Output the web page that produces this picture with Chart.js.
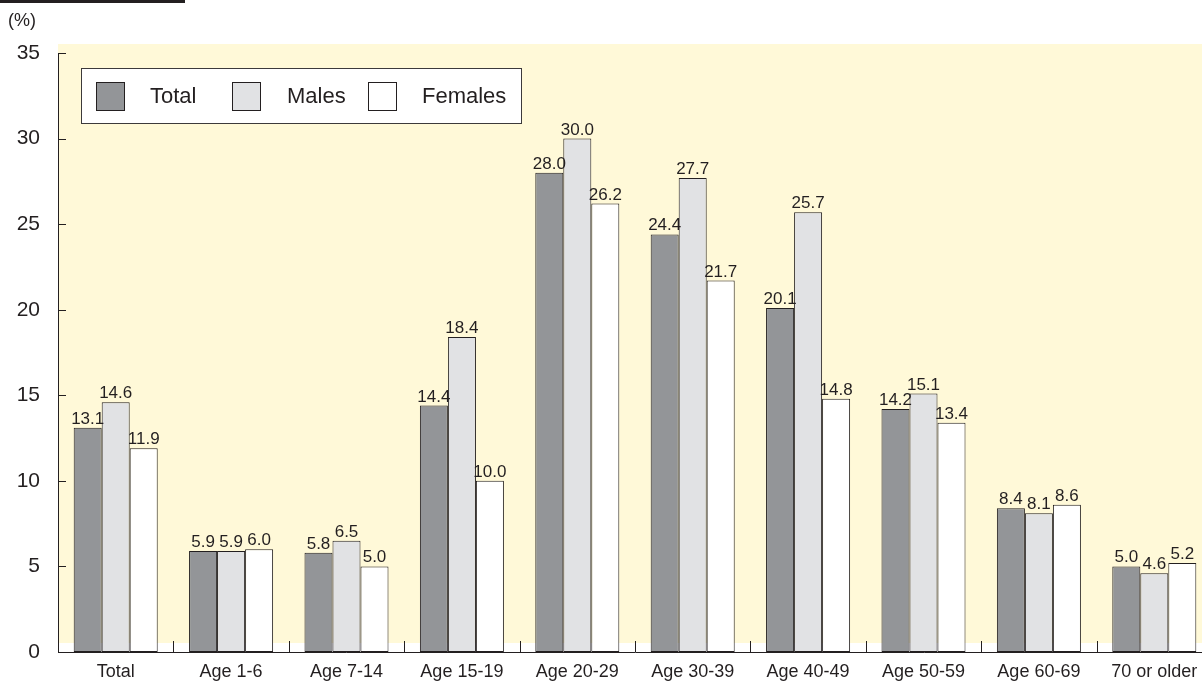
<!DOCTYPE html>
<html>
<head>
<meta charset="utf-8">
<script src="https://cdn.jsdelivr.net/npm/chart.js@4/dist/chart.umd.min.js"></script>
<style>
  html, body { margin: 0; padding: 0; background: #fff; overflow: hidden; }
  canvas { display: block; }
</style>
</head>
<body>
<canvas id="chart" width="1212" height="685"></canvas>
<script>
// data
const categories = ['Total', 'Age 1-6', 'Age 7-14', 'Age 15-19', 'Age 20-29', 'Age 30-39', 'Age 40-49', 'Age 50-59', 'Age 60-69', '70 or older'];
const totalValues = [13.1, 5.9, 5.8, 14.4, 28.0, 24.4, 20.1, 14.2, 8.4, 5.0];
const maleValues = [14.6, 5.9, 6.5, 18.4, 30.0, 27.7, 25.7, 15.1, 8.1, 4.6];
const femaleValues = [11.9, 6.0, 5.0, 10.0, 26.2, 21.7, 14.8, 13.4, 8.6, 5.2];
const yTicks = [0, 5, 10, 15, 20, 25, 30, 35];
const unitLabel = '(%)';

const INK = '#231f20';
const FONT = '"Liberation Sans", Arial, sans-serif';

const decorPlugin = {
    id: 'decor',
    beforeDraw(chart) {
        const { ctx, chartArea } = chart;
        ctx.save();
        ctx.fillStyle = '#ffffff';
        ctx.fillRect(0, 0, chart.width, chart.height);
        // black strip at the very top
        ctx.fillStyle = INK;
        ctx.fillRect(0, 0, 185, 3);
        // pale yellow plot background
        ctx.fillStyle = '#fff9d8';
        ctx.fillRect(chartArea.left, 44, chartArea.right - chartArea.left, 643 - 44);
        ctx.restore();
    },
    afterDraw(chart) {
        const { ctx, chartArea, scales } = chart;
        const x = scales.x, y = scales.y;
        ctx.save();
        ctx.strokeStyle = INK;
        ctx.lineWidth = 1;

        // inward ticks on the value axis
        yTicks.forEach(v => {
            const py = Math.round(y.getPixelForValue(v)) + 0.5;
            ctx.beginPath();
            ctx.moveTo(chartArea.left, py);
            ctx.lineTo(chartArea.left + 8, py);
            ctx.stroke();
        });

        // category boundary ticks
        for (let i = 1; i < categories.length; i++) {
            const px = Math.round((x.getPixelForValue(i - 1) + x.getPixelForValue(i)) / 2) + 0.5;
            ctx.beginPath();
            ctx.moveTo(px, chartArea.bottom);
            ctx.lineTo(px, chartArea.bottom - 11);
            ctx.stroke();
        }

        // unit label
        ctx.fillStyle = INK;
        ctx.font = '18px ' + FONT;
        ctx.textAlign = 'left';
        ctx.textBaseline = 'middle';
        ctx.fillText(unitLabel, 8, 21);

        // value labels above bars
        ctx.font = '17px ' + FONT;
        ctx.textAlign = 'center';
        ctx.textBaseline = 'alphabetic';
        chart.data.datasets.forEach((ds, di) => {
            chart.getDatasetMeta(di).data.forEach((bar, i) => {
                ctx.fillText(ds.data[i].toFixed(1), bar.x, bar.y - 4);
            });
        });

        // legend box
        ctx.fillStyle = '#ffffff';
        ctx.fillRect(81, 68, 440, 55);
        ctx.strokeStyle = '#3c3a3b';
        ctx.strokeRect(81.5, 68.5, 440, 55);
        const swatchX = [96, 232, 368];
        const textX = [150, 287, 422];
        ctx.font = '22px ' + FONT;
        ctx.textAlign = 'left';
        ctx.textBaseline = 'middle';
        chart.data.datasets.forEach((ds, di) => {
            ctx.fillStyle = ds.backgroundColor;
            ctx.fillRect(swatchX[di], 82, 28, 28);
            ctx.strokeStyle = INK;
            ctx.strokeRect(swatchX[di] + 0.5, 82.5, 28, 28);
            ctx.fillStyle = INK;
            ctx.fillText(ds.label, textX[di], 97);
        });
        ctx.restore();
    }
};

new Chart(document.getElementById('chart'), {
    type: 'bar',
    data: {
        labels: categories,
        datasets: [
            { label: 'Total', data: totalValues, backgroundColor: '#939598' },
            { label: 'Males', data: maleValues, backgroundColor: '#e1e2e4' },
            { label: 'Females', data: femaleValues, backgroundColor: '#ffffff' }
        ]
    },
    options: {
        responsive: false,
        animation: false,
        events: [],
        layout: { padding: { top: 53, left: 0, right: 0, bottom: 0 } },
        datasets: {
            bar: {
                borderColor: INK,
                borderWidth: 1,
                borderSkipped: false,
                barPercentage: 1,
                categoryPercentage: 0.728
            }
        },
        plugins: {
            legend: { display: false },
            tooltip: { enabled: false }
        },
        scales: {
            x: {
                afterFit: s => { s.height = 33; },
                grid: { display: false, drawTicks: false },
                border: { display: true, color: INK, width: 1 },
                ticks: { color: INK, font: { size: 18, family: FONT }, padding: 9, maxRotation: 0, autoSkip: false }
            },
            y: {
                min: 0,
                max: 35,
                afterFit: s => { s.width = 58; },
                afterBuildTicks: s => { s.ticks = yTicks.map(v => ({ value: v })); },
                grid: { display: false, drawTicks: false },
                border: { display: true, color: INK, width: 1 },
                ticks: { color: INK, font: { size: 21, family: FONT }, padding: 18 }
            }
        }
    },
    plugins: [decorPlugin]
});
</script>
</body>
</html>
